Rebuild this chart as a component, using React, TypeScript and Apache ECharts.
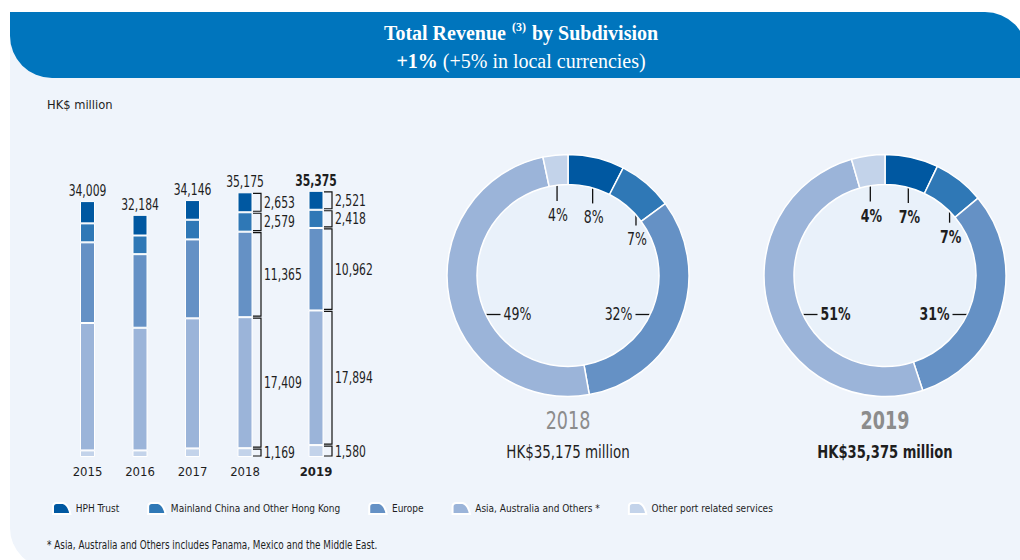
import React, { useEffect, useRef } from "react";
import * as echarts from "echarts";

// ---------- data ----------
const years = ["2015", "2016", "2017", "2018", "2019"];
const segmentNames = [
  "HPH Trust",
  "Mainland China and Other Hong Kong",
  "Europe",
  "Asia, Australia and Others *",
  "Other port related services",
];
const hphTrust = [2961, 2749, 2616, 2653, 2521];
const mainlandChina = [2523, 2483, 2616, 2579, 2418];
const europe = [10717, 9774, 10491, 11365, 10962];
const asiaOthers = [16932, 16302, 17281, 17409, 17894];
const otherPort = [876, 876, 1142, 1169, 1580];
const totals = [34009, 32184, 34146, 35175, 35375];
const pctLabels2018 = ["8%", "7%", "32%", "49%", "4%"];
const pctLabels2019 = ["7%", "7%", "31%", "51%", "4%"];

// ---------- styles ----------
const segmentValues = [hphTrust, mainlandChina, europe, asiaOthers, otherPort];
const colors = ["#0058a1", "#2f78b6", "#6591c5", "#9bb4d9", "#c3d3ea"];
const SANS = "'Liberation Sans Narrow', 'DejaVu Sans Condensed', 'Noto Sans', sans-serif";
const SERIF = "'Liberation Serif', 'DejaVu Serif', serif";
const TXT = "#1e1e1e";
const NARROW = 0.8;
const fmt = (v: number) => v.toLocaleString("en-US");

const donuts = [
  { yearIdx: 3, cx: 568, cy: 275.5, labels: pctLabels2018, bold: false },
  { yearIdx: 4, cx: 885, cy: 275.5, labels: pctLabels2019, bold: true },
];
const R_IN = 91;
const R_OUT = 121;
const R_MID = 105;
const LINE_LEN = 30;
const SIDE_DY = 39;

function narrowText(x: number, y: number, scale: number, style: any) {
  return { type: "text", x, y, scaleX: scale, style: { x: 0, y: 0, ...style } };
}

function donutLabelGraphics(d: typeof donuts[0]) {
  const vals = segmentValues.map((arr) => arr[d.yearIdx]);
  const total = vals.reduce((a, b) => a + b, 0);
  let cum = 0;
  const els: any[] = [];
  vals.forEach((v, i) => {
    const mid = (cum + v / 2) / total;
    cum += v;
    const ang = Math.PI / 2 - mid * 2 * Math.PI;
    const c = Math.cos(ang);
    const s = Math.sin(ang);
    const font = {
      fontFamily: SANS,
      fontSize: 17,
      fontWeight: d.bold ? "bold" : "normal",
      fill: TXT,
    };
    if (s > 0.6) {
      const x = d.cx + R_MID * c;
      const y0 = d.cy - R_MID * s;
      const y1 = y0 + LINE_LEN;
      els.push({
        type: "line",
        shape: { x1: x, y1: y0, x2: x, y2: y1 },
        style: { stroke: "#111", lineWidth: 1.3 },
      });
      els.push(
        narrowText(x + 1, y1 + 6, 0.82, {
          text: d.labels[i],
          align: "center",
          verticalAlign: "top",
          ...font,
        })
      );
    } else {
      const dir = c > 0 ? 1 : -1;
      const y = d.cy + SIDE_DY;
      const x0 = d.cx + dir * Math.sqrt(R_MID * R_MID - SIDE_DY * SIDE_DY);
      const x1 = x0 - dir * LINE_LEN;
      els.push({
        type: "line",
        shape: { x1: x0, y1: y, x2: x1, y2: y },
        style: { stroke: "#111", lineWidth: 1.3 },
      });
      els.push(
        narrowText(x1 - dir * 3, y, 0.82, {
          text: d.labels[i],
          align: dir > 0 ? "right" : "left",
          verticalAlign: "middle",
          ...font,
        })
      );
    }
  });
  return els;
}

function bracketData(yearIdx: number, catIdx: number) {
  let cum = 0;
  return [4, 3, 2, 1, 0].map((k) => {
    const v = segmentValues[k][yearIdx];
    const item = [catIdx, cum, cum + v, v];
    cum += v;
    return item;
  });
}

function renderBracket(params: any, api: any) {
  const cat = api.value(0);
  const s = api.value(1);
  const e = api.value(2);
  const v = api.value(3);
  const pS = api.coord([cat, s]);
  const pE = api.coord([cat, e]);
  const xb = pS[0];
  const yB = pS[1];
  const yT = pE[1];
  const x0 = xb + 8;
  const x1 = xb + 16;
  return {
    type: "group",
    children: [
      {
        type: "polyline",
        shape: {
          points: [
            [x0, yT + 1],
            [x1, yT + 1],
            [x1, yB - 1],
            [x0, yB - 1],
          ],
        },
        style: { stroke: "#111", lineWidth: 1.2, fill: "none" },
      },
      {
        type: "text",
        x: x1 + 3,
        y: (yT + yB) / 2,
        scaleX: NARROW,
        style: {
          text: fmt(v),
          x: 0,
          y: 0,
          align: "left",
          verticalAlign: "middle",
          fontFamily: SANS,
          fontSize: 15,
          fill: TXT,
        },
      },
    ],
  };
}

function makeTotalRenderer(bold: boolean) {
  return (params: any, api: any) => {
    const p = api.coord([api.value(0), api.value(1)]);
    return {
      type: "text",
      x: p[0],
      y: p[1] - 3,
      scaleX: NARROW,
      style: {
        text: fmt(api.value(1)),
        x: 0,
        y: 0,
        align: "center",
        verticalAlign: "bottom",
        fontFamily: SANS,
        fontSize: 15,
        fontWeight: bold ? "bold" : "normal",
        fill: TXT,
      },
    };
  };
}

function buildOption() {
  const series: any[] = [];
  const groups = [
    { g: 0, from: 0, to: 4 },
    { g: 1, from: 4, to: 5 },
  ];
  groups.forEach(({ g, from, to }) => {
    [4, 3, 2, 1, 0].forEach((k) => {
      series.push({
        type: "bar",
        name: segmentNames[k],
        xAxisIndex: g,
        yAxisIndex: g,
        stack: "s" + g,
        barWidth: 15,
        silent: true,
        data: segmentValues[k].slice(from, to),
        itemStyle: { color: colors[k], borderColor: "#ffffff", borderWidth: 1 },
      });
    });
    series.push({
      type: "custom",
      xAxisIndex: g,
      yAxisIndex: g,
      silent: true,
      z: 5,
      data: totals.slice(from, to).map((t, i) => [i, t]),
      renderItem: makeTotalRenderer(g === 1),
    });
  });
  series.push({
    type: "custom",
    xAxisIndex: 0,
    yAxisIndex: 0,
    silent: true,
    z: 5,
    data: bracketData(3, 3),
    renderItem: renderBracket,
  });
  series.push({
    type: "custom",
    xAxisIndex: 1,
    yAxisIndex: 1,
    silent: true,
    z: 5,
    data: bracketData(4, 0),
    renderItem: renderBracket,
  });
  donuts.forEach((d) => {
    series.push({
      type: "pie",
      center: [d.cx, d.cy],
      radius: [R_IN, R_OUT],
      startAngle: 90,
      clockwise: true,
      silent: true,
      label: { show: false },
      labelLine: { show: false },
      itemStyle: { borderColor: "#ffffff", borderWidth: 1.5 },
      data: segmentNames.map((n, k) => ({
        name: n,
        value: segmentValues[k][d.yearIdx],
        itemStyle: { color: colors[k] },
      })),
    });
  });

  const graphics: any[] = [
    {
      type: "rect",
      shape: { x: 10, y: 30, width: 1015, height: 538, r: [0, 0, 0, 40] },
      style: { fill: "#eff4fb" },
    },
    {
      type: "rect",
      shape: { x: 10, y: 12, width: 1017, height: 66, r: [0, 42, 0, 42] },
      style: { fill: "#0075bd" },
    },
    {
      type: "text",
      x: 521,
      y: 33,
      style: {
        text: "{a|Total Revenue }{s|(3)}{a| by Subdivision}",
        align: "center",
        verticalAlign: "middle",
        fill: "#fff",
        rich: {
          a: { fontFamily: SERIF, fontSize: 20, fontWeight: "bold", fill: "#fff" },
          s: { fontFamily: SERIF, fontSize: 12, fontWeight: "bold", fill: "#fff", padding: [0, 1, 12, 1] },
        },
      },
    },
    {
      type: "text",
      x: 521,
      y: 61,
      style: {
        text: "{b|+1%}{r| (+5% in local currencies)}",
        align: "center",
        verticalAlign: "middle",
        fill: "#fff",
        rich: {
          b: { fontFamily: SERIF, fontSize: 20, fontWeight: "bold", fill: "#fff" },
          r: { fontFamily: SERIF, fontSize: 20, fill: "#fff" },
        },
      },
    },
    {
      type: "text",
      x: 47,
      y: 104,
      style: { text: "HK$ million", fontFamily: SANS, fontSize: 12.8, fill: TXT, verticalAlign: "middle" },
    },
    narrowText(47, 545, 0.82, {
      text: "* Asia, Australia and Others includes Panama, Mexico and the Middle East.",
      fontFamily: SANS,
      fontSize: 12,
      fill: TXT,
      verticalAlign: "middle",
    }),
  ];
  donuts.forEach((d) => {
    graphics.push({
      type: "circle",
      shape: { cx: d.cx, cy: d.cy, r: R_IN },
      style: { fill: "#e9f1fa" },
    });
    graphics.push(...donutLabelGraphics(d));
    graphics.push(
      narrowText(d.cx, 420, 0.78, {
        text: years[d.yearIdx],
        align: "center",
        verticalAlign: "middle",
        fontFamily: SANS,
        fontSize: 25,
        fontWeight: d.bold ? "bold" : "normal",
        fill: "#8c8c8c",
      })
    );
    graphics.push(
      narrowText(d.cx, 452, d.bold ? 0.81 : 0.83, {
        text: "HK$" + fmt(totals[d.yearIdx]) + " million",
        align: "center",
        verticalAlign: "middle",
        fontFamily: SANS,
        fontSize: 18,
        fontWeight: d.bold ? "bold" : "normal",
        fill: TXT,
      })
    );
  });

  return {
    animation: false,
    textStyle: { fontFamily: SANS },
    graphic: { elements: graphics },
    legend: {
      left: 47,
      top: 497,
      itemWidth: 18,
      itemHeight: 11,
      itemGap: 28,
      selectedMode: false,
      icon: "path://M0,12 L0,4 Q0,0 4,0 L11,0 Q17,2 19,12 Z",
      data: segmentNames,
      textStyle: { fontFamily: SANS, fontSize: 10, color: TXT },
    },
    grid: [
      { left: 61.25, width: 210, top: 156, bottom: 103 },
      { left: 289.75, width: 52.5, top: 156, bottom: 103 },
    ],
    xAxis: [
      {
        type: "category",
        gridIndex: 0,
        data: years.slice(0, 4),
        axisLine: { show: false },
        axisTick: { show: false },
        axisLabel: { fontFamily: SANS, fontSize: 13, color: TXT, margin: 8 },
      },
      {
        type: "category",
        gridIndex: 1,
        data: years.slice(4),
        axisLine: { show: false },
        axisTick: { show: false },
        axisLabel: { fontFamily: SANS, fontSize: 13, color: TXT, margin: 8, fontWeight: "bold" },
      },
    ],
    yAxis: [
      { type: "value", gridIndex: 0, min: 0, max: 40000, show: false },
      { type: "value", gridIndex: 1, min: 0, max: 40000, show: false },
    ],
    series,
  };
}

export default function App() {
  const ref = useRef<HTMLDivElement>(null);
  useEffect(() => {
    if (!ref.current) return;
    const chart = echarts.init(ref.current, undefined, { renderer: "svg" });
    chart.setOption(buildOption() as any);
    return () => chart.dispose();
  }, []);
  return (
    <div
      ref={ref}
      style={{ position: "absolute", left: 0, top: 0, width: 1020, height: 560, background: "#fff" }}
    />
  );
}
